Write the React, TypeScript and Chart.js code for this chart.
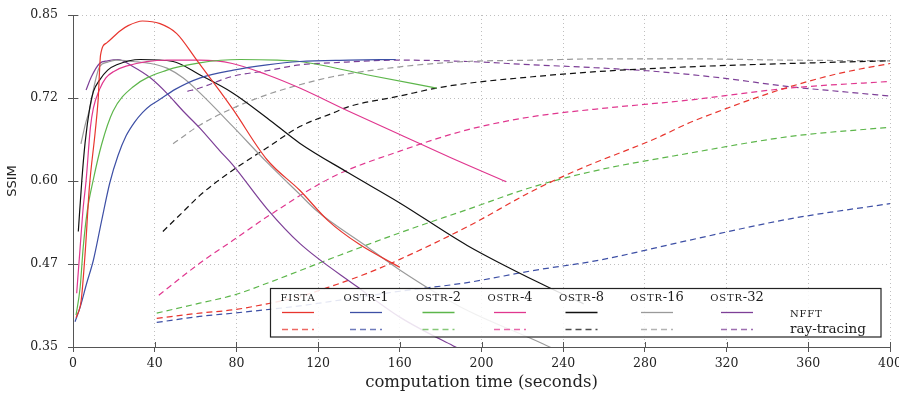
import { useEffect, useRef } from "react";
import { Chart, registerables } from "chart.js";

Chart.register(...registerables);

// ---------- data ----------
const methodNames = ["FISTA", "OSTR-1", "OSTR-2", "OSTR-4", "OSTR-8", "OSTR-16", "OSTR-32"];
const rowNames = ["NFFT", "ray-tracing"];

const xTickValues = [0, 40, 80, 120, 160, 200, 240, 280, 320, 360, 400];
const yTickValues = [0.35, 0.475, 0.6, 0.725, 0.85];
const yTickLabels = ["0.35", "0.47", "0.60", "0.72", "0.85"];

// NFFT (solid)
const fistaNfftT = [1.5, 4, 6, 8, 10.8, 12.3, 13.5, 16.5, 23, 27, 34, 42.6, 50.8, 60.6, 72, 78.5, 95, 111, 125, 140, 160];
const fistaNfftV = [0.394, 0.42, 0.494, 0.59, 0.672, 0.722, 0.79, 0.808, 0.826, 0.834, 0.841, 0.837, 0.822, 0.782, 0.735, 0.707, 0.632, 0.586, 0.54, 0.505, 0.47];
const ostr1NfftT = [1, 3.5, 6.7, 10, 14, 18, 22, 26, 30, 34, 38, 42.6, 50, 62, 78.5, 95, 111, 135, 158];
const ostr1NfftV = [0.388, 0.41, 0.446, 0.481, 0.54, 0.597, 0.638, 0.668, 0.688, 0.703, 0.714, 0.723, 0.738, 0.755, 0.767, 0.775, 0.78, 0.782, 0.783];
const ostr2NfftT = [1.5, 3.5, 5, 7, 9.8, 14, 19.6, 29.5, 46, 62, 81.8, 100, 111, 143.8, 178];
const ostr2NfftV = [0.398, 0.44, 0.5, 0.555, 0.6, 0.655, 0.705, 0.742, 0.767, 0.778, 0.783, 0.782, 0.78, 0.76, 0.74];
const ostr4NfftT = [1.8, 3.5, 5, 6.4, 8.5, 10, 13, 16, 20, 26, 46, 62, 78, 95, 111, 135, 160, 185, 212];
const ostr4NfftV = [0.431, 0.5, 0.56, 0.6, 0.68, 0.71, 0.738, 0.755, 0.765, 0.773, 0.782, 0.782, 0.777, 0.76, 0.74, 0.705, 0.67, 0.635, 0.599];
const ostr8NfftT = [2.6, 4.3, 5.9, 8.3, 10, 13, 17, 21.4, 33, 49, 62, 78, 95, 111, 135, 160, 193, 232, 250];
const ostr8NfftV = [0.524, 0.6, 0.657, 0.712, 0.735, 0.752, 0.767, 0.775, 0.783, 0.78, 0.76, 0.733, 0.695, 0.657, 0.612, 0.567, 0.503, 0.441, 0.415];
const ostr16NfftT = [3.9, 6, 8.3, 10.5, 13, 17, 21, 29.5, 38, 46, 54, 62, 78, 95, 111, 119, 144, 160, 190, 230, 240];
const ostr16NfftV = [0.656, 0.685, 0.71, 0.745, 0.772, 0.779, 0.782, 0.78, 0.777, 0.77, 0.755, 0.733, 0.683, 0.628, 0.58, 0.556, 0.501, 0.466, 0.41, 0.355, 0.34];
const ostr32NfftT = [6.4, 9, 13, 17, 22, 29.5, 38, 46, 54, 62, 72, 78, 95, 111, 139, 160, 186, 192];
const ostr32NfftV = [0.737, 0.757, 0.777, 0.781, 0.783, 0.772, 0.755, 0.732, 0.705, 0.68, 0.645, 0.625, 0.558, 0.506, 0.441, 0.395, 0.352, 0.343];

// ray-tracing (dashed)
const fistaRtT = [41, 62, 78.5, 95, 111, 127, 144, 160, 193, 225, 240, 255, 270, 286, 302, 318, 335, 351, 375, 400];
const fistaRtV = [0.393, 0.401, 0.406, 0.415, 0.426, 0.442, 0.461, 0.482, 0.531, 0.585, 0.607, 0.627, 0.645, 0.665, 0.688, 0.707, 0.726, 0.742, 0.762, 0.777];
const ostr1RtT = [41, 62, 78.5, 111, 140, 160, 193, 225, 258, 302, 351, 400];
const ostr1RtV = [0.387, 0.396, 0.401, 0.412, 0.425, 0.434, 0.447, 0.465, 0.481, 0.511, 0.543, 0.566];
const ostr2RtT = [41, 62, 78.5, 95, 127, 160, 193, 225, 255, 302, 351, 400];
const ostr2RtV = [0.401, 0.416, 0.428, 0.446, 0.484, 0.522, 0.557, 0.591, 0.615, 0.642, 0.667, 0.681];
const ostr4RtT = [42, 62, 78.5, 95, 127, 160, 193, 225, 255, 302, 351, 400];
const ostr4RtV = [0.428, 0.476, 0.511, 0.546, 0.606, 0.645, 0.677, 0.697, 0.708, 0.722, 0.74, 0.75];
const ostr8RtT = [44, 55, 62, 70, 80, 95, 111, 127, 135, 160, 178, 193, 225, 258, 302, 351, 400];
const ostr8RtV = [0.524, 0.557, 0.578, 0.598, 0.62, 0.65, 0.682, 0.702, 0.712, 0.728, 0.74, 0.747, 0.757, 0.765, 0.772, 0.777, 0.781];
const ostr16RtT = [49, 62, 78.5, 95, 111, 127, 160, 193, 225, 260, 300, 351, 400];
const ostr16RtV = [0.656, 0.684, 0.71, 0.73, 0.745, 0.757, 0.772, 0.78, 0.782, 0.784, 0.784, 0.782, 0.781];
const ostr32RtT = [56, 62, 78.5, 95, 111, 127, 160, 193, 225, 253, 281, 300, 318, 351, 375, 400];
const ostr32RtV = [0.735, 0.74, 0.758, 0.766, 0.775, 0.778, 0.782, 0.78, 0.775, 0.771, 0.766, 0.761, 0.755, 0.742, 0.735, 0.728];

const nfftSeries = [
  [fistaNfftT, fistaNfftV], [ostr1NfftT, ostr1NfftV], [ostr2NfftT, ostr2NfftV], [ostr4NfftT, ostr4NfftV],
  [ostr8NfftT, ostr8NfftV], [ostr16NfftT, ostr16NfftV], [ostr32NfftT, ostr32NfftV],
];
const rtSeries = [
  [fistaRtT, fistaRtV], [ostr1RtT, ostr1RtV], [ostr2RtT, ostr2RtV], [ostr4RtT, ostr4RtV],
  [ostr8RtT, ostr8RtV], [ostr16RtT, ostr16RtV], [ostr32RtT, ostr32RtV],
];

// ---------- styles ----------
const palette = ["#e8352e", "#3d4fa5", "#5db64b", "#e0378f", "#111111", "#9a9a9a", "#7d3f97"];
const dashPattern = [6, 4];
const serif = "'DejaVu Serif', serif";
const sans = "'DejaVu Sans', sans-serif";

const toPoints = (t: number[], v: number[]) => t.map((x, i) => ({ x, y: v[i] }));

const tableLegend = {
  id: "tableLegend",
  afterDraw(chart: any) {
    const ctx: CanvasRenderingContext2D = chart.ctx;
    const bx = 270.5, by = 288.5, bw = 610.5, bh = 48.5;
    const centers = [298, 366, 438.5, 510, 581.5, 657, 737];
    const headY = 300.5, solidY = 312.5, dashY = 329.5;
    ctx.save();
    ctx.fillStyle = "rgba(255,255,255,0.86)";
    ctx.fillRect(bx, by, bw, bh);
    ctx.strokeStyle = "#222";
    ctx.lineWidth = 1.2;
    ctx.strokeRect(bx, by, bw, bh);
    ctx.textBaseline = "alphabetic";
    ctx.fillStyle = "#1a1a1a";
    const drawSmallCaps = (text: string, x: number, y: number, center: boolean) => {
      const m = text.match(/^([A-Z]+)(.*)$/);
      const caps = m ? m[1] : text;
      const rest = m ? m[2] : "";
      ctx.font = `10px ${serif}`;
      (ctx as any).letterSpacing = "0.8px";
      const w1 = ctx.measureText(caps).width;
      ctx.font = `13px ${serif}`;
      (ctx as any).letterSpacing = "0px";
      const w2 = ctx.measureText(rest).width;
      const sx = center ? x - (w1 + w2) / 2 : x;
      ctx.textAlign = "left";
      ctx.font = `10px ${serif}`;
      (ctx as any).letterSpacing = "0.8px";
      ctx.fillText(caps, sx, y);
      ctx.font = `13px ${serif}`;
      (ctx as any).letterSpacing = "0px";
      ctx.fillText(rest, sx + w1, y);
    };
    methodNames.forEach((name, i) => {
      const c = centers[i];
      drawSmallCaps(name, c, headY, true);
      const solid = chart.data.datasets[i];
      const dashed = chart.data.datasets[i + methodNames.length];
      ctx.lineWidth = 1.3;
      ctx.strokeStyle = solid.borderColor;
      ctx.setLineDash([]);
      ctx.beginPath();
      ctx.moveTo(c - 16, solidY);
      ctx.lineTo(c + 16, solidY);
      ctx.stroke();
      ctx.strokeStyle = dashed.borderColor;
      ctx.globalAlpha = 0.75;
      ctx.setLineDash(dashed.borderDash);
      ctx.beginPath();
      ctx.moveTo(c - 16, dashY);
      ctx.lineTo(c + 16, dashY);
      ctx.stroke();
      ctx.globalAlpha = 1;
      ctx.setLineDash([]);
    });
    ctx.fillStyle = "#1a1a1a";
    drawSmallCaps(rowNames[0], 790, 316.5, false);
    ctx.font = `13.5px ${serif}`;
    (ctx as any).letterSpacing = "0px";
    ctx.textAlign = "left";
    ctx.fillText(rowNames[1], 790, 333);
    ctx.restore();
  },
};

const innerTicks = {
  id: "innerTicks",
  afterDraw(chart: any) {
    const ctx: CanvasRenderingContext2D = chart.ctx;
    const { x, y } = chart.scales;
    const area = chart.chartArea;
    ctx.save();
    ctx.strokeStyle = "#555";
    ctx.lineWidth = 1;
    xTickValues.forEach((v) => {
      const px = Math.round(x.getPixelForValue(v)) + 0.5;
      ctx.beginPath();
      ctx.moveTo(px, area.bottom);
      ctx.lineTo(px, area.bottom - 5);
      ctx.stroke();
    });
    yTickValues.forEach((v) => {
      const py = Math.round(y.getPixelForValue(v)) + 0.5;
      ctx.beginPath();
      ctx.moveTo(area.left, py);
      ctx.lineTo(area.left + 5, py);
      ctx.stroke();
    });
    ctx.restore();
  },
};

export default function App() {
  const ref = useRef<HTMLCanvasElement | null>(null);
  useEffect(() => {
    if (!ref.current) return;
    const datasets: any[] = [];
    nfftSeries.forEach(([t, v], i) => {
      datasets.push({
        label: `${methodNames[i]} ${rowNames[0]}`,
        data: toPoints(t, v),
        borderColor: palette[i],
        borderWidth: 1.2,
        pointRadius: 0,
        fill: false,
        cubicInterpolationMode: "monotone",
      });
    });
    rtSeries.forEach(([t, v], i) => {
      datasets.push({
        label: `${methodNames[i]} ${rowNames[1]}`,
        data: toPoints(t, v),
        borderColor: palette[i],
        borderWidth: 1.2,
        borderDash: dashPattern,
        pointRadius: 0,
        fill: false,
        cubicInterpolationMode: "monotone",
      });
    });
    const chart = new Chart(ref.current, {
      type: "line",
      data: { datasets },
      plugins: [innerTicks, tableLegend],
      options: {
        responsive: false,
        animation: false,
        layout: { padding: { left: 0, right: 9, top: 15, bottom: 0 }, autoPadding: false },
        plugins: { legend: { display: false }, tooltip: { enabled: false } },
        scales: {
          x: {
            type: "linear",
            min: 0,
            max: 400,
            afterFit: (s: any) => { s.height = 54; s.paddingLeft = 0; s.paddingRight = 0; },
            afterBuildTicks: (s: any) => { s.ticks = xTickValues.map((value) => ({ value })); },
            ticks: { color: "#222", font: { family: serif, size: 12.5 }, padding: 4, maxRotation: 0, autoSkip: false },
            grid: { color: "rgba(0,0,0,0.25)", lineWidth: 1, tickLength: 5, tickColor: "#555", tickWidth: 1 },
            border: { display: true, color: "#555", width: 1, dash: [1, 3] },
            title: { display: true, text: "computation time (seconds)", color: "#222", font: { family: serif, size: 16.5 }, padding: { top: 0, bottom: 8 } },
          },
          y: {
            type: "linear",
            min: 0.35,
            max: 0.85,
            afterFit: (s: any) => { s.width = 73; s.paddingTop = 0; s.paddingBottom = 0; },
            afterBuildTicks: (s: any) => { s.ticks = yTickValues.map((value) => ({ value })); },
            ticks: {
              color: "#222",
              font: { family: serif, size: 12.5 },
              padding: 10,
              autoSkip: false,
              callback: (_v: any, i: number) => yTickLabels[i],
            },
            grid: { color: "rgba(0,0,0,0.25)", lineWidth: 1, tickLength: 5, tickColor: "#555", tickWidth: 1 },
            border: { display: true, color: "#555", width: 1, dash: [1, 3] },
            title: { display: true, text: "SSIM", color: "#222", font: { family: sans, size: 13 }, padding: { top: 5, bottom: 0 } },
          },
        },
      } as any,
    });
    return () => chart.destroy();
  }, []);
  return (
    <canvas
      ref={ref}
      width={899}
      height={401}
      style={{ position: "fixed", left: 0, top: 0, width: 899, height: 401, display: "block", background: "#fff" }}
    />
  );
}
